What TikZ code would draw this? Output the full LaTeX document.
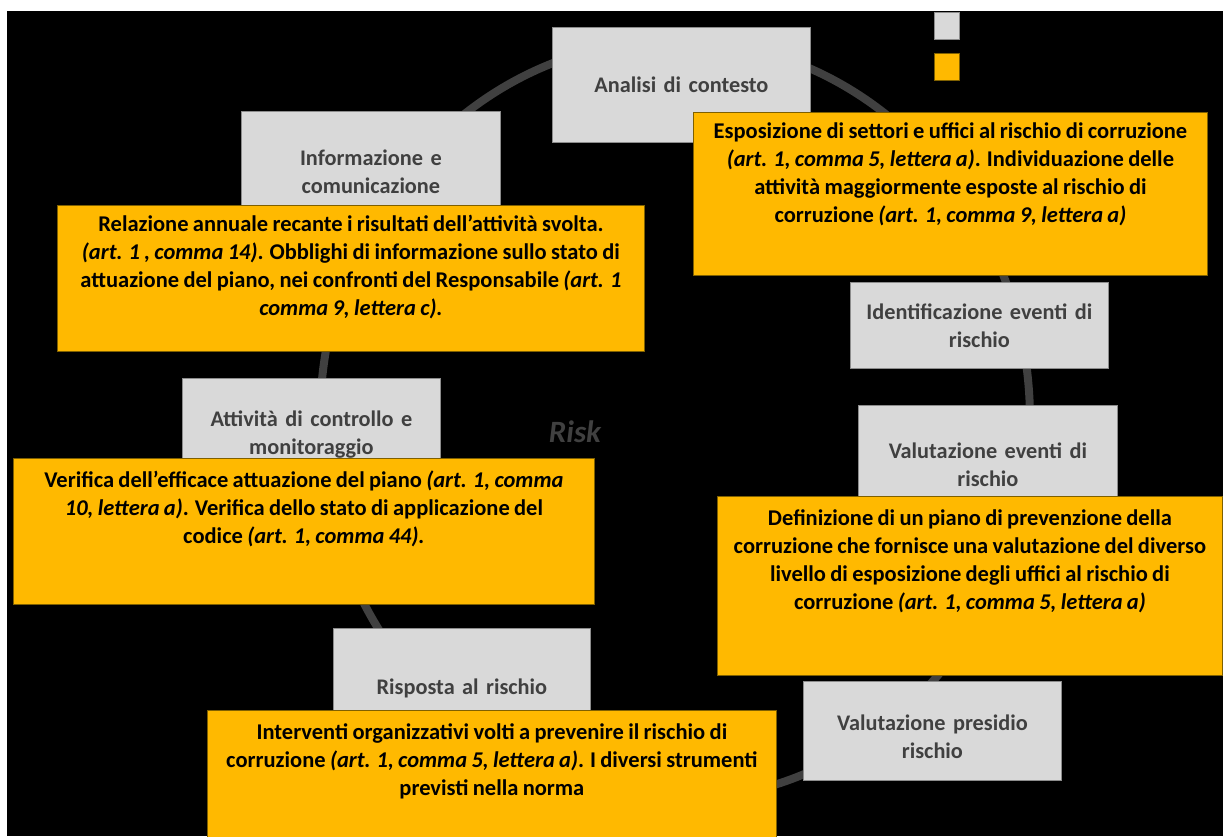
\documentclass[tikz,border=0pt]{standalone}
\usepackage{fontspec}
\setmainfont{Carlito}[WordSpace=0.85]
\definecolor{phasegrey}{HTML}{D9D9D9}
\definecolor{phaseline}{HTML}{8C8C8C}
\definecolor{phasetext}{HTML}{404040}
\definecolor{normgold}{HTML}{FFB900}
\definecolor{normline}{HTML}{7F6000}
\definecolor{ringgrey}{HTML}{404040}

\begin{document}
\begin{tikzpicture}[
    x = 1pt,
    y = -1pt,
    phase/.style = {rectangle, fill=phasegrey, draw=phaseline, line width=0.8pt,
              anchor=north west, inner sep=0pt, minimum width=258pt,
              text width=250pt, align=center, text=phasetext,
              font=\bfseries\fontsize{22.3}{28}\selectfont},
    norm/.style = {rectangle, fill=normgold, draw=normline, line width=0.8pt,
              anchor=north west, inner sep=0pt},
    norm_text/.style = {anchor=north, align=center, inner sep=0pt,
              font=\bfseries\fontsize{22.5}{28}\selectfont},
    legend_key/.style = {rectangle, anchor=north west, inner sep=0pt,
              line width=0.8pt, minimum width=25pt, minimum height=27pt},
    ]

\useasboundingbox (0,0) rectangle (1223,836);
\fill[white] (0,0) rectangle (1223,836);
\fill[black] (7,11) rectangle (1223,836);

% cycle ring behind the phases
\draw[ringgrey, line width=8pt] (675,420) ellipse [x radius=355pt, y radius=380pt];

\node[phase, minimum height=115pt] (analisi) at (552,27){Analisi di contesto};
\node[phase, minimum height=120pt, minimum width=259pt] (informazione) at (241,111){Informazione e\\comunicazione};
\node[phase, minimum height=86pt] (identificazione) at (850,282){Identificazione eventi di\\rischio};
\node[phase, minimum height=112pt] (attivita) at (182,378){Attività di controllo e\\monitoraggio};
\node[phase, minimum height=118pt, minimum width=259pt] (valutazione_eventi) at (858,405){Valutazione eventi di\\rischio};
\node[phase, minimum height=99pt] (presidio) at (803,681){};
\node[phase, draw=none, fill=none, minimum height=0pt, anchor=center] (presidio_text)
    at ([yshift=-6pt]presidio.center){Valutazione presidio\\rischio};
\node[phase, minimum height=120pt, minimum width=257pt] (risposta) at (333,628){Risposta al rischio};

\node[norm, minimum width=514pt, minimum height=163pt] (esposizione) at (693,112){};
\node[norm_text] (esposizione_text) at ([yshift=-10pt]esposizione.north)
    {Esposizione di settori e uffici al rischio di corruzione\\
     \textit{(art. 1, comma 5, lettera a)}. Individuazione delle\\
     attività maggiormente esposte al rischio di\\
     corruzione \textit{(art. 1, comma 9, lettera a)}};

\node[norm, minimum width=587pt, minimum height=146pt] (relazione) at (57,205){};
\node[norm_text] (relazione_text) at ([yshift=-10pt]relazione.north)
    {Relazione annuale recante i risultati dell’attività svolta.\\
     \textit{(art. 1 , comma 14)}. Obblighi di informazione sullo stato di\\
     attuazione del piano, nei confronti del Responsabile \textit{(art. 1}\\
     \textit{comma 9, lettera c).}};

\node[norm, minimum width=581pt, minimum height=146pt] (verifica) at (13,458){};
\node[norm_text] (verifica_text) at ([yshift=-13pt]verifica.north)
    {Verifica dell’efficace attuazione del piano \textit{(art. 1, comma}\\
     \textit{10, lettera a)}. Verifica dello stato di applicazione del\\
     codice \textit{(art. 1, comma 44).}};

\node[norm, minimum width=505pt, minimum height=179pt] (definizione) at (717,496){};
\node[norm_text] (definizione_text) at ([yshift=-13pt]definizione.north)
    {Definizione di un piano di prevenzione della\\
     corruzione che fornisce una valutazione del diverso\\
     livello di esposizione degli uffici al rischio di\\
     corruzione \textit{(art. 1, comma 5, lettera a)}};

\node[norm, minimum width=569pt, minimum height=132pt] (interventi) at (207,710){};
\node[norm_text] (interventi_text) at ([yshift=-13pt]interventi.north)
    {Interventi organizzativi volti a prevenire il rischio di\\
     corruzione \textit{(art. 1, comma 5, lettera a)}. I diversi strumenti\\
     previsti nella norma};

\node[legend_key, fill=phasegrey, draw=phaseline] (key_phase) at (934,12){};
\node[legend_key, fill=normgold, draw=normline] (key_norm) at (934,53){};

\node[text=phasetext, font=\bfseries\itshape\fontsize{31}{36}\selectfont] (risk) at (575,432){Risk};

\end{tikzpicture}
\end{document}
